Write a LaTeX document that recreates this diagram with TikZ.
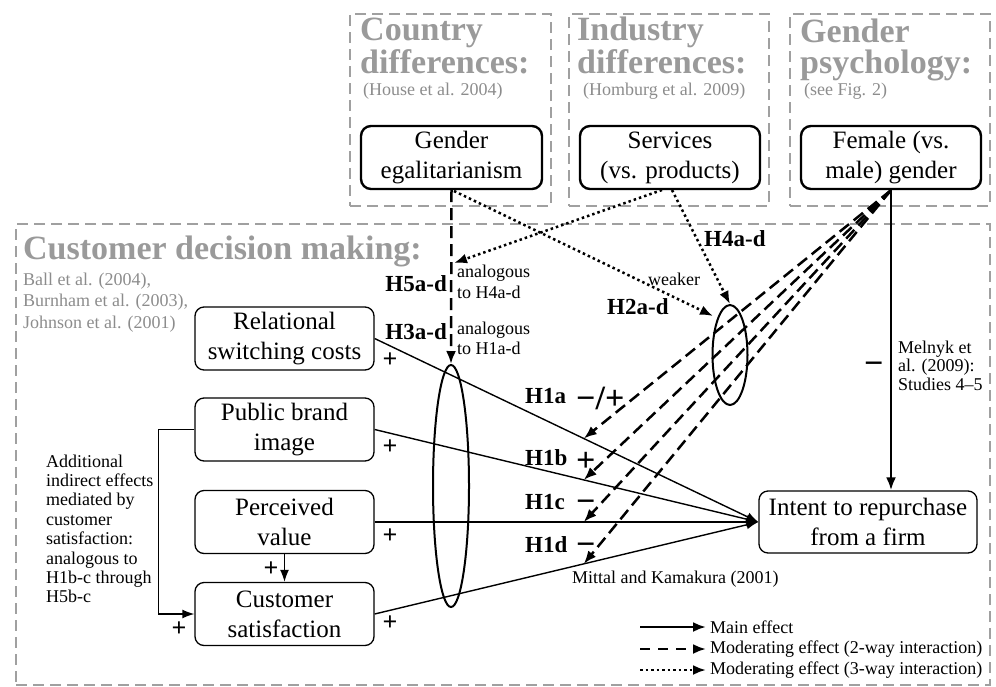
\documentclass[tikz,border=0pt]{standalone}
\usepackage{fontspec}
\setmainfont{Liberation Serif}
\usetikzlibrary{arrows.meta,shapes.geometric}
\definecolor{hgray}{HTML}{9A9A9A}
\definecolor{rgray}{HTML}{8C8C8C}
\definecolor{bgray}{HTML}{A0A0A0}
\newcommand{\twoline}[2]{\vbox{\hbox{#1}\hbox{#2}}}
\begin{document}
\begin{tikzpicture}[x=1pt,y=-1pt,
  region/.style={draw=bgray, line width=2pt, dash pattern=on 11pt off 6pt, anchor=north west, inner sep=0pt},
  heading/.style={text=hgray, font=\bfseries\fontsize{34}{31}\selectfont, anchor=base west, inner sep=0pt},
  ref/.style={text=rgray, font=\fontsize{18}{21}\selectfont, anchor=base west, inner sep=0pt},
  small/.style={font=\fontsize{18}{20}\selectfont, anchor=base west, inner sep=0pt},
  hlab/.style={font=\bfseries\fontsize{23}{23}\selectfont, inner sep=0pt},
  sign/.style={font=\bfseries\fontsize{34}{34}\selectfont, anchor=base west, inner sep=0pt},
  plus/.style={font=\bfseries\fontsize{26}{26}\selectfont, inner sep=0pt},
  topbox/.style={draw, line width=2.4pt, rounded corners=10pt, minimum width=181, minimum height=63, align=center, font=\fontsize{25}{30}\selectfont, inner sep=0pt},
  lowbox/.style={draw, line width=1.3pt, rounded corners=9pt, minimum width=179, minimum height=63, align=center, font=\fontsize{25}{30}\selectfont, inner sep=0pt},
  tip/.style={-{Latex[length=12pt,width=9pt]}},
  thinarr/.style={line width=1.4pt, tip},
  thickarr/.style={line width=2.5pt, -{Latex[length=13pt,width=10pt]}},
  dasharr/.style={line width=2.5pt, dash pattern=on 12pt off 6pt, -{Latex[length=13pt,width=10pt]}},
  dotarr/.style={line width=2.5pt, dash pattern=on 2.5pt off 3pt, -{Latex[length=13pt,width=10pt]}}
]
\useasboundingbox (0,0) rectangle (996,686);

% regions
\node[region, minimum width=201, minimum height=192] (rc) at (349,13) {};
\node[region, minimum width=200, minimum height=192] (ri) at (568,13) {};
\node[region, minimum width=200, minimum height=192] (rg) at (789,13) {};
\node[region, minimum width=974, minimum height=461] (rd) at (15,223) {};

% headings
\node[heading] (hc) at (360,73) {\twoline{Country}{differences:}};
\node[ref] (hc3) at (363,95) {(House et al. 2004)};
\node[heading] (hi) at (577,73) {\twoline{Industry}{differences:}};
\node[ref] (hi3) at (583,95) {(Homburg et al. 2009)};
\node[heading] (hg) at (800,73) {\twoline{Gender}{psychology:}};
\node[ref] (hg3) at (804,95) {(see Fig. 2)};
\node[heading] (hd1) at (23,259) {Customer decision making:};
\node[ref] (hd2) at (23,285) {Ball et al. (2004),};
\node[ref] (hd3) at (23,306.5) {Burnham et al. (2003),};
\node[ref] (hd4) at (23,328) {Johnson et al. (2001)};

% top nodes
\node[topbox] (egal) at (451.5,157.5) {Gender\\egalitarianism};
\node[topbox, minimum width=180] (svc) at (670,157.5) {Services\\(vs. products)};
\node[topbox, minimum width=180] (fem) at (891,157.5) {Female (vs.\\male) gender};

% lower nodes
\node[lowbox] (rel) at (284.5,338.5) {Relational\\switching costs};
\node[lowbox] (pub) at (284.5,429.5) {Public brand\\image};
\node[lowbox] (per) at (284.5,522) {Perceived\\value};
\node[lowbox] (cus) at (284.5,614) {Customer\\satisfaction};
\node[lowbox, minimum width=218, minimum height=62] (int) at (868,522) {Intent to repurchase\\from a firm};

% ellipses
\node[draw, ellipse, line width=2pt, minimum width=36, minimum height=242, inner sep=0pt] (E1) at (451,486) {};
\node[draw, ellipse, line width=2pt, minimum width=35, minimum height=100, inner sep=0pt] (E2) at (730,355) {};

% main effects
\draw[thinarr] (rel.east) -- (int.west);
\draw[thinarr] (pub.east) -- (int.west);
\draw[thinarr] (per.east) -- (int.west);
\draw[thinarr] (cus.east) -- (int.west);
\path (rel.east) -- (int.west) coordinate[pos=0.545] (h1a);
\path (pub.east) -- (int.west) coordinate[pos=0.545] (h1b);
\path (per.east) -- (int.west) coordinate[pos=0.545] (h1c);
\path (cus.east) -- (int.west) coordinate[pos=0.545] (h1d);
\draw[thinarr] (per.south) -- (cus.north);
\draw[thinarr] (pub.west) -- ++(-36,0) |- (cus.west);

% Melnyk
\draw[thickarr] (fem.south) -- (fem.south |- int.north);

% 2-way moderation
\draw[dasharr] (fem.south) -- (h1a);
\draw[dasharr] (fem.south) -- (h1b);
\draw[dasharr] (fem.south) -- (h1c);
\draw[dasharr] (fem.south) -- (h1d);
\draw[dasharr] (egal.south) -- (E1.north);

% 3-way moderation
\coordinate (svcA) at (662,190);
\coordinate (svcB) at (672,190);
\coordinate (h5t) at (454,263);
\coordinate (h2s) at (454,191);
\coordinate (h2t) at (713,316);
\draw[dotarr] (svcA) -- (h5t);
\draw[dotarr] (svcB) -- (E2.north);
\draw[dotarr] (h2s) -- (h2t);

% labels
\node[hlab, anchor=base east] (l5) at (447,291) {H5a-d};
\node[hlab, anchor=base east] (l3) at (447,339) {H3a-d};
\node[small] (a5a) at (457,277) {analogous};
\node[small] (a5b) at (457,298) {to H4a-d};
\node[small] (a3a) at (457,334) {analogous};
\node[small] (a3b) at (457,354) {to H1a-d};
\node[hlab, anchor=base west] (l4) at (704,246) {H4a-d};
\node[hlab, anchor=base west] (l2) at (607,314) {H2a-d};
\node[small] (wk) at (648,285) {weaker};
\node[hlab, anchor=base west] (l1a) at (525,403) {H1a};
\node[hlab, anchor=base west] (l1b) at (525,465) {H1b};
\node[hlab, anchor=base west] (l1c) at (525,509) {H1c};
\node[hlab, anchor=base west] (l1d) at (525,552) {H1d};
\node[sign] (s1a) at (576,409) {−/+};
\node[sign] (s1b) at (576,471) {+};
\node[sign] (s1c) at (576,512) {−};
\node[sign] (s1d) at (576,555) {−};
\node[plus] (p1) at (390,360) {+};
\node[plus] (p2) at (390,447) {+};
\node[plus] (p3) at (390,536) {+};
\node[plus] (p4) at (390,623) {+};
\node[plus] (p5) at (271,569) {+};
\node[plus] (p6) at (179,629) {+};
\node[sign] (sm) at (864,374) {−};
\node[small] (m1) at (898,353) {Melnyk et};
\node[small] (m2) at (898,371) {al. (2009):};
\node[small] (m3) at (898,390) {Studies 4–5};
\node[small] (mk) at (572,583) {Mittal and Kamakura (2001)};
\foreach \t [count=\i] in {Additional, indirect effects, mediated by, customer, satisfaction:, analogous to, H1b-c through, H5b-c}
  \node[small] (add\i) at (46,{467+19.4*(\i-1)}) {\t};

% legend
\coordinate (g1a) at (640,627); \coordinate (g1b) at (706,627);
\coordinate (g2a) at (640,649); \coordinate (g2b) at (706,649);
\coordinate (g3a) at (640,670); \coordinate (g3b) at (706,670);
\draw[thickarr] (g1a) -- (g1b);
\draw[dasharr, dash pattern=on 10pt off 8pt] (g2a) -- (g2b);
\draw[dotarr] (g3a) -- (g3b);
\node[small, anchor=west] (t1) at (710,627) {Main effect};
\node[small, anchor=west] (t2) at (710,649) {Moderating effect (2-way interaction)};
\node[small, anchor=west] (t3) at (710,670) {Moderating effect (3-way interaction)};
\end{tikzpicture}
\end{document}
